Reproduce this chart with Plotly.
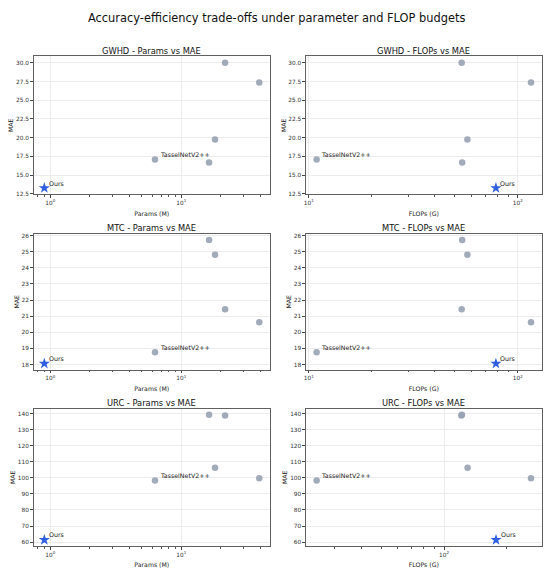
import math
import plotly.graph_objects as go

# ---------------- data ----------------
methods = ["Ours", "TasselNetV2++", "Method A", "Method B", "Method C", "Method D"]
labeled = ["Ours", "TasselNetV2++"]

params_m = [0.9, 6.3, 16.3, 18.1, 21.6, 39.4]
flops_gwhd = [78.6, 10.9, 54.2, 57.4, 53.9, 115.7]
flops_mtc = [78.6, 10.9, 54.2, 57.4, 53.9, 115.7]
flops_urc = [177.4, 24.5, 121.8, 129.6, 121.0, 261.0]

mae_gwhd = [13.26, 17.07, 16.66, 19.75, 30.04, 27.40]
mae_mtc = [18.06, 18.76, 25.73, 24.81, 21.43, 20.63]
mae_urc = [61.4, 98.3, 139.2, 106.3, 138.8, 99.8]

datasets = ["GWHD", "MTC", "URC"]
flops_by_ds = [flops_gwhd, flops_mtc, flops_urc]
mae_by_ds = [mae_gwhd, mae_mtc, mae_urc]
ydticks = [2.5, 1, 10]
yformats = [".1f", "d", "d"]

log_tickvals = [1, 10, 100, 1000]
log_ticktext = ["10<sup>0</sup>", "10<sup>1</sup>", "10<sup>2</sup>", "10<sup>3</sup>"]
minor_vals = [k * 10 ** n for n in range(-1, 3) for k in range(2, 10)]

suptitle = "Accuracy-efficiency trade-offs under parameter and FLOP budgets"

# ---------------- layout geometry ----------------
W, H = 550, 574
col_dom = [[31.7 / W, 269.0 / W], [305.0 / W, 541.7 / W]]
row_px = [(55.7, 194.3), (234.0, 370.7), (409.7, 548.0)]
row_dom = [[1 - b / H, 1 - t / H] for t, b in row_px]

FONT = "DejaVu Sans"
GRAY = "#98a2b3"
BLUE = "#2f5fe0"
SPINE = "#606060"


def margin_range(vals, log=False, m=0.05):
    v = [math.log10(x) for x in vals] if log else list(vals)
    lo, hi = min(v), max(v)
    d = (hi - lo) * m
    return [lo - d, hi + d]


fig = go.Figure()
annotations = []
idx = 0
for r, ds in enumerate(datasets):
    for c in range(2):
        idx += 1
        xs = params_m if c == 0 else flops_by_ds[r]
        ys = mae_by_ds[r]
        xa = "x" if idx == 1 else f"x{idx}"
        ya = "y" if idx == 1 else f"y{idx}"
        others_x = [x for x, m in zip(xs, methods) if m != "Ours"]
        others_y = [y for y, m in zip(ys, methods) if m != "Ours"]
        ours_i = methods.index("Ours")
        fig.add_trace(go.Scatter(
            x=others_x, y=others_y, mode="markers", xaxis=xa, yaxis=ya,
            marker=dict(color=GRAY, size=6.5, opacity=0.9, line=dict(width=0)),
            showlegend=False, hoverinfo="skip"))
        fig.add_trace(go.Scatter(
            x=[xs[ours_i]], y=[ys[ours_i]], mode="markers", xaxis=xa, yaxis=ya,
            marker=dict(color=BLUE, size=8.5, symbol="star", line=dict(width=0)),
            showlegend=False, hoverinfo="skip"))
        for name in labeled:
            i = methods.index(name)
            annotations.append(dict(
                x=math.log10(xs[i]), y=ys[i], xref=xa, yref=ya, text=name,
                showarrow=False, xanchor="left", yanchor="bottom",
                xshift=2.5, yshift=-0.5, font=dict(family=FONT, size=6.3, color="#222")))
        xlabel = "Params (M)" if c == 0 else "FLOPs (G)"
        title = f"{ds} - {'Params' if c == 0 else 'FLOPs'} vs MAE"
        dx = col_dom[c]
        dy = row_dom[r]
        annotations.append(dict(
            x=(dx[0] + dx[1]) / 2, y=dy[1], xref="paper", yref="paper", text=title,
            showarrow=False, xanchor="center", yanchor="bottom", yshift=-1.5,
            font=dict(family=FONT, size=8.3, color="#111")))
        axis_common = dict(
            showline=True, linecolor=SPINE, linewidth=1, mirror=True,
            ticks="outside", ticklen=2.5, tickwidth=0.7, tickcolor="#444",
            tickfont=dict(family=FONT, size=5.8, color="#333"),
            showgrid=True, gridcolor="#ececec", gridwidth=0.6,
            zeroline=False,
        )
        fig.layout[("xaxis" if idx == 1 else f"xaxis{idx}")] = dict(
            axis_common, type="log", domain=dx, anchor=ya,
            range=margin_range(xs, log=True),
            tickmode="array", tickvals=log_tickvals, ticktext=log_ticktext,
            minor=dict(tickmode="array", tickvals=minor_vals, ticks="outside",
                       ticklen=1.5, tickwidth=0.5, tickcolor="#555", showgrid=False),
            title=dict(text=xlabel, standoff=6, font=dict(family=FONT, size=6.2, color="#222")),
        )
        fig.layout[("yaxis" if idx == 1 else f"yaxis{idx}")] = dict(
            axis_common, domain=dy, anchor=xa,
            range=margin_range(ys), dtick=ydticks[r], tickformat=yformats[r],
            title=dict(text="MAE", standoff=1, font=dict(family=FONT, size=6.2, color="#222")),
        )

annotations.append(dict(
    x=0.5, y=1 - 17 / H, xref="paper", yref="paper", text=suptitle, showarrow=False,
    xanchor="center", yanchor="middle", font=dict(family=FONT, size=11.4, color="#111")))

fig.update_layout(
    width=W, height=H, margin=dict(l=0, r=0, t=0, b=0),
    paper_bgcolor="white", plot_bgcolor="white",
    annotations=annotations, showlegend=False,
)

fig.write_html(
    "out.html",
    config={"displayModeBar": False},
    post_script="document.body.style.margin='0';document.body.style.overflow='hidden';",
)
